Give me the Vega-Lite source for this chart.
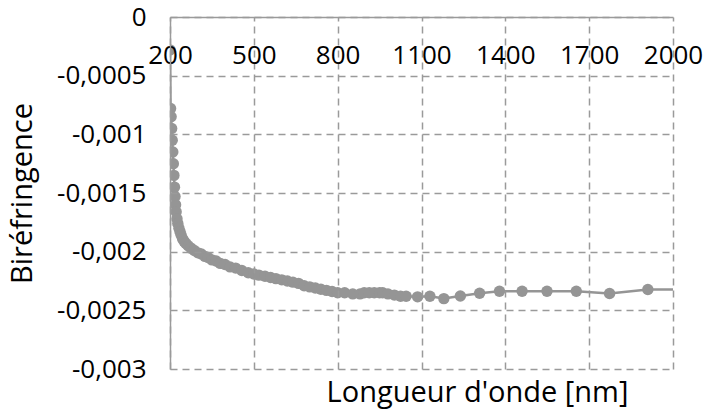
{
  "$schema": "https://vega.github.io/schema/vega-lite/v6.json",
  "width": 503,
  "height": 352,
  "autosize": {"type": "none"},
  "padding": {"left": 170, "top": 17, "right": 32, "bottom": 43},
  "background": "white",
  "config": {
    "view": {"stroke": null},
    "font": "Open Sans",
    "axis": {
      "gridColor": "#9a9a9a",
      "gridDash": [7, 5],
      "gridWidth": 1.5,
      "gridOpacity": 1,
      "domainColor": "#9a9a9a",
      "domainWidth": 1.5,
      "ticks": false,
      "labelFont": "Open Sans",
      "labelFontSize": 26,
      "labelColor": "#000000",
      "titleFont": "Open Sans",
      "titleFontSize": 29,
      "titleFontWeight": "normal",
      "titleColor": "#000000",
      "labelOverlap": false
    }
  },
  "data": {
    "values": [
      {"wl": 200, "b": -0.00028},
      {"wl": 202, "b": -0.00078},
      {"wl": 204, "b": -0.00085},
      {"wl": 206, "b": -0.00095},
      {"wl": 208, "b": -0.00105},
      {"wl": 210, "b": -0.00115},
      {"wl": 212, "b": -0.00125},
      {"wl": 214, "b": -0.00135},
      {"wl": 216, "b": -0.00145},
      {"wl": 218, "b": -0.00153},
      {"wl": 220, "b": -0.0016},
      {"wl": 222, "b": -0.00166},
      {"wl": 225, "b": -0.00172},
      {"wl": 228, "b": -0.00176},
      {"wl": 232, "b": -0.0018},
      {"wl": 236, "b": -0.00183},
      {"wl": 240, "b": -0.00186},
      {"wl": 245, "b": -0.00189},
      {"wl": 250, "b": -0.00191},
      {"wl": 257, "b": -0.00193},
      {"wl": 265, "b": -0.00195},
      {"wl": 275, "b": -0.00197},
      {"wl": 287, "b": -0.00199},
      {"wl": 300, "b": -0.00201},
      {"wl": 312, "b": -0.00202},
      {"wl": 325, "b": -0.00204},
      {"wl": 336, "b": -0.00205},
      {"wl": 350, "b": -0.00207},
      {"wl": 365, "b": -0.00208},
      {"wl": 380, "b": -0.0021},
      {"wl": 397, "b": -0.00211},
      {"wl": 415, "b": -0.00213},
      {"wl": 435, "b": -0.00214},
      {"wl": 457, "b": -0.00216},
      {"wl": 480, "b": -0.00218},
      {"wl": 500, "b": -0.00219},
      {"wl": 518, "b": -0.0022},
      {"wl": 540, "b": -0.00221},
      {"wl": 560, "b": -0.00222},
      {"wl": 579, "b": -0.00223},
      {"wl": 600, "b": -0.00224},
      {"wl": 620, "b": -0.00225},
      {"wl": 640, "b": -0.00226},
      {"wl": 660, "b": -0.00227},
      {"wl": 680, "b": -0.00229},
      {"wl": 700, "b": -0.0023},
      {"wl": 720, "b": -0.00231},
      {"wl": 740, "b": -0.00232},
      {"wl": 760, "b": -0.00233},
      {"wl": 780, "b": -0.00234},
      {"wl": 800, "b": -0.00235},
      {"wl": 825, "b": -0.00235},
      {"wl": 854, "b": -0.00236},
      {"wl": 880, "b": -0.00236},
      {"wl": 895, "b": -0.00235},
      {"wl": 913, "b": -0.00235},
      {"wl": 931, "b": -0.00235},
      {"wl": 950, "b": -0.00235},
      {"wl": 961, "b": -0.00235},
      {"wl": 980, "b": -0.00236},
      {"wl": 1003, "b": -0.00237},
      {"wl": 1025, "b": -0.00238},
      {"wl": 1045, "b": -0.00238},
      {"wl": 1086, "b": -0.002385},
      {"wl": 1130, "b": -0.00238},
      {"wl": 1180, "b": -0.0024},
      {"wl": 1239, "b": -0.002378},
      {"wl": 1308, "b": -0.002355},
      {"wl": 1379, "b": -0.002337},
      {"wl": 1460, "b": -0.002337},
      {"wl": 1549, "b": -0.002337},
      {"wl": 1654, "b": -0.002337},
      {"wl": 1773, "b": -0.002357},
      {"wl": 1910, "b": -0.002323},
      {"wl": 2000, "b": -0.002323}
    ]
  },
  "encoding": {
    "x": {
      "field": "wl",
      "type": "quantitative",
      "scale": {"domain": [200, 2000], "nice": false, "zero": false},
      "axis": {
        "orient": "top",
        "values": [200, 500, 800, 1100, 1400, 1700, 2000],
        "format": "d",
        "title": "Longueur d'onde [nm]",
        "labelFlush": false,
        "labelBaseline": "middle",
        "labelPadding": -38,
        "titleX": 307,
        "titleY": 375,
        "titleAlign": "center",
        "titleBaseline": "middle",
        "titleAngle": 0,
        "zindex": 1
      }
    },
    "y": {
      "field": "b",
      "type": "quantitative",
      "scale": {"domain": [-0.003, 0], "nice": false, "zero": false},
      "axis": {
        "values": [0, -0.0005, -0.001, -0.0015, -0.002, -0.0025, -0.003],
        "labelExpr": "replace('' + datum.value, '.', ',')",
        "title": "Biréfringence",
        "labelPadding": 24,
        "titleX": -148,
        "titleY": 176,
        "titleAngle": -90,
        "titleAlign": "center",
        "titleBaseline": "middle",
        "zindex": 1
      }
    }
  },
  "layer": [
    {
      "mark": {"type": "line", "color": "#959595", "strokeWidth": 2.5, "clip": true}
    },
    {
      "transform": [{"filter": "datum.wl < 2000"}],
      "mark": {"type": "point", "filled": true, "color": "#959595", "opacity": 1, "size": 130, "clip": true}
    }
  ]
}
